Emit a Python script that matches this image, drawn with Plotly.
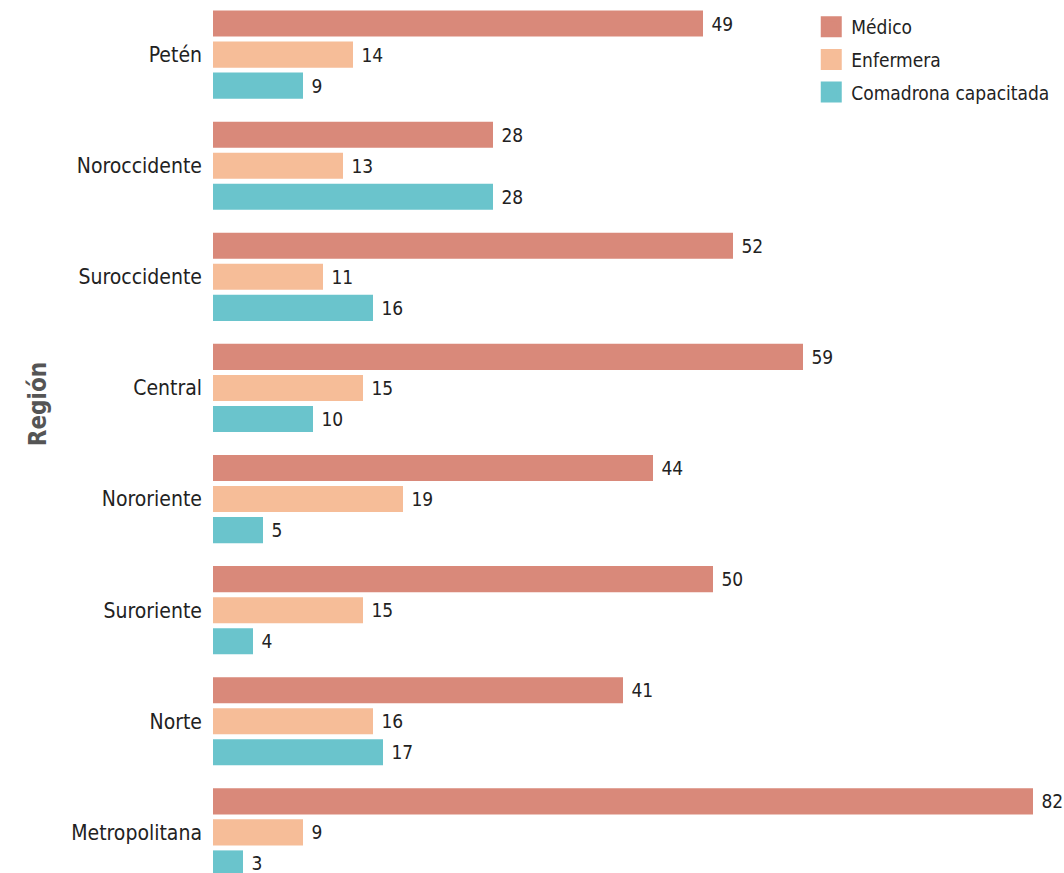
import plotly.graph_objects as go

regiones = ["Petén", "Noroccidente", "Suroccidente", "Central",
            "Nororiente", "Suroriente", "Norte", "Metropolitana"]
medico = [49, 28, 52, 59, 44, 50, 41, 82]
enfermera = [14, 13, 11, 15, 19, 15, 16, 9]
comadrona = [9, 28, 16, 10, 5, 4, 17, 3]

series = [
    ("Médico", medico, "#D9897A"),
    ("Enfermera", enfermera, "#F6BD98"),
    ("Comadrona capacitada", comadrona, "#6AC4CC"),
]

FONT = "DejaVu Sans Condensed, Liberation Sans Narrow, sans-serif"

fig = go.Figure()
for name, vals, color in series:
    fig.add_trace(go.Bar(
        y=regiones, x=vals, name=name, orientation="h",
        marker=dict(color=color, line=dict(width=0)),
        text=vals, texttemplate="\u00a0%{text}",
        textposition="outside", cliponaxis=False,
        textfont=dict(family=FONT, size=19, color="#222"),
        showlegend=False,
    ))

# legend entries with bigger square swatches than the bar default
for name, vals, color in series:
    fig.add_trace(go.Scatter(
        x=[None], y=[None], mode="markers", name=name, legendgroup=name,
        marker=dict(symbol="square", size=16, color=color,
                    line=dict(color=color, width=5)),
    ))

fig.update_layout(
    width=1064, height=873,
    margin=dict(l=213, r=0, t=0, b=0),
    paper_bgcolor="white", plot_bgcolor="white",
    barmode="group", bargap=0.162, bargroupgap=0.16,
    font=dict(family=FONT, size=19, color="#222"),
    showlegend=True,
    legend=dict(x=0.703, y=0.991, xanchor="left", yanchor="top",
                bgcolor="rgba(0,0,0,0)", tracegroupgap=5,
                font=dict(family=FONT, size=19, color="#222")),
    xaxis=dict(range=[0, 85.1], visible=False, showgrid=False, zeroline=False),
    yaxis=dict(range=[7.3655, -0.4915], showgrid=False, zeroline=False,
               showline=False, ticks="", ticklabelstandoff=10,
               tickfont=dict(family=FONT, size=21, color="#222")),
)

fig.add_annotation(text="<b>Región</b>", xref="paper", yref="paper",
                   x=0, y=0.537, xshift=-191, textangle=-90, showarrow=False,
                   font=dict(family=FONT, size=24, color="#555"))

# the page body has a default margin; drop it so the figure sits at 0,0
fig.write_html("out.html", config={"displayModeBar": False},
               post_script="document.body.style.margin='0';")
